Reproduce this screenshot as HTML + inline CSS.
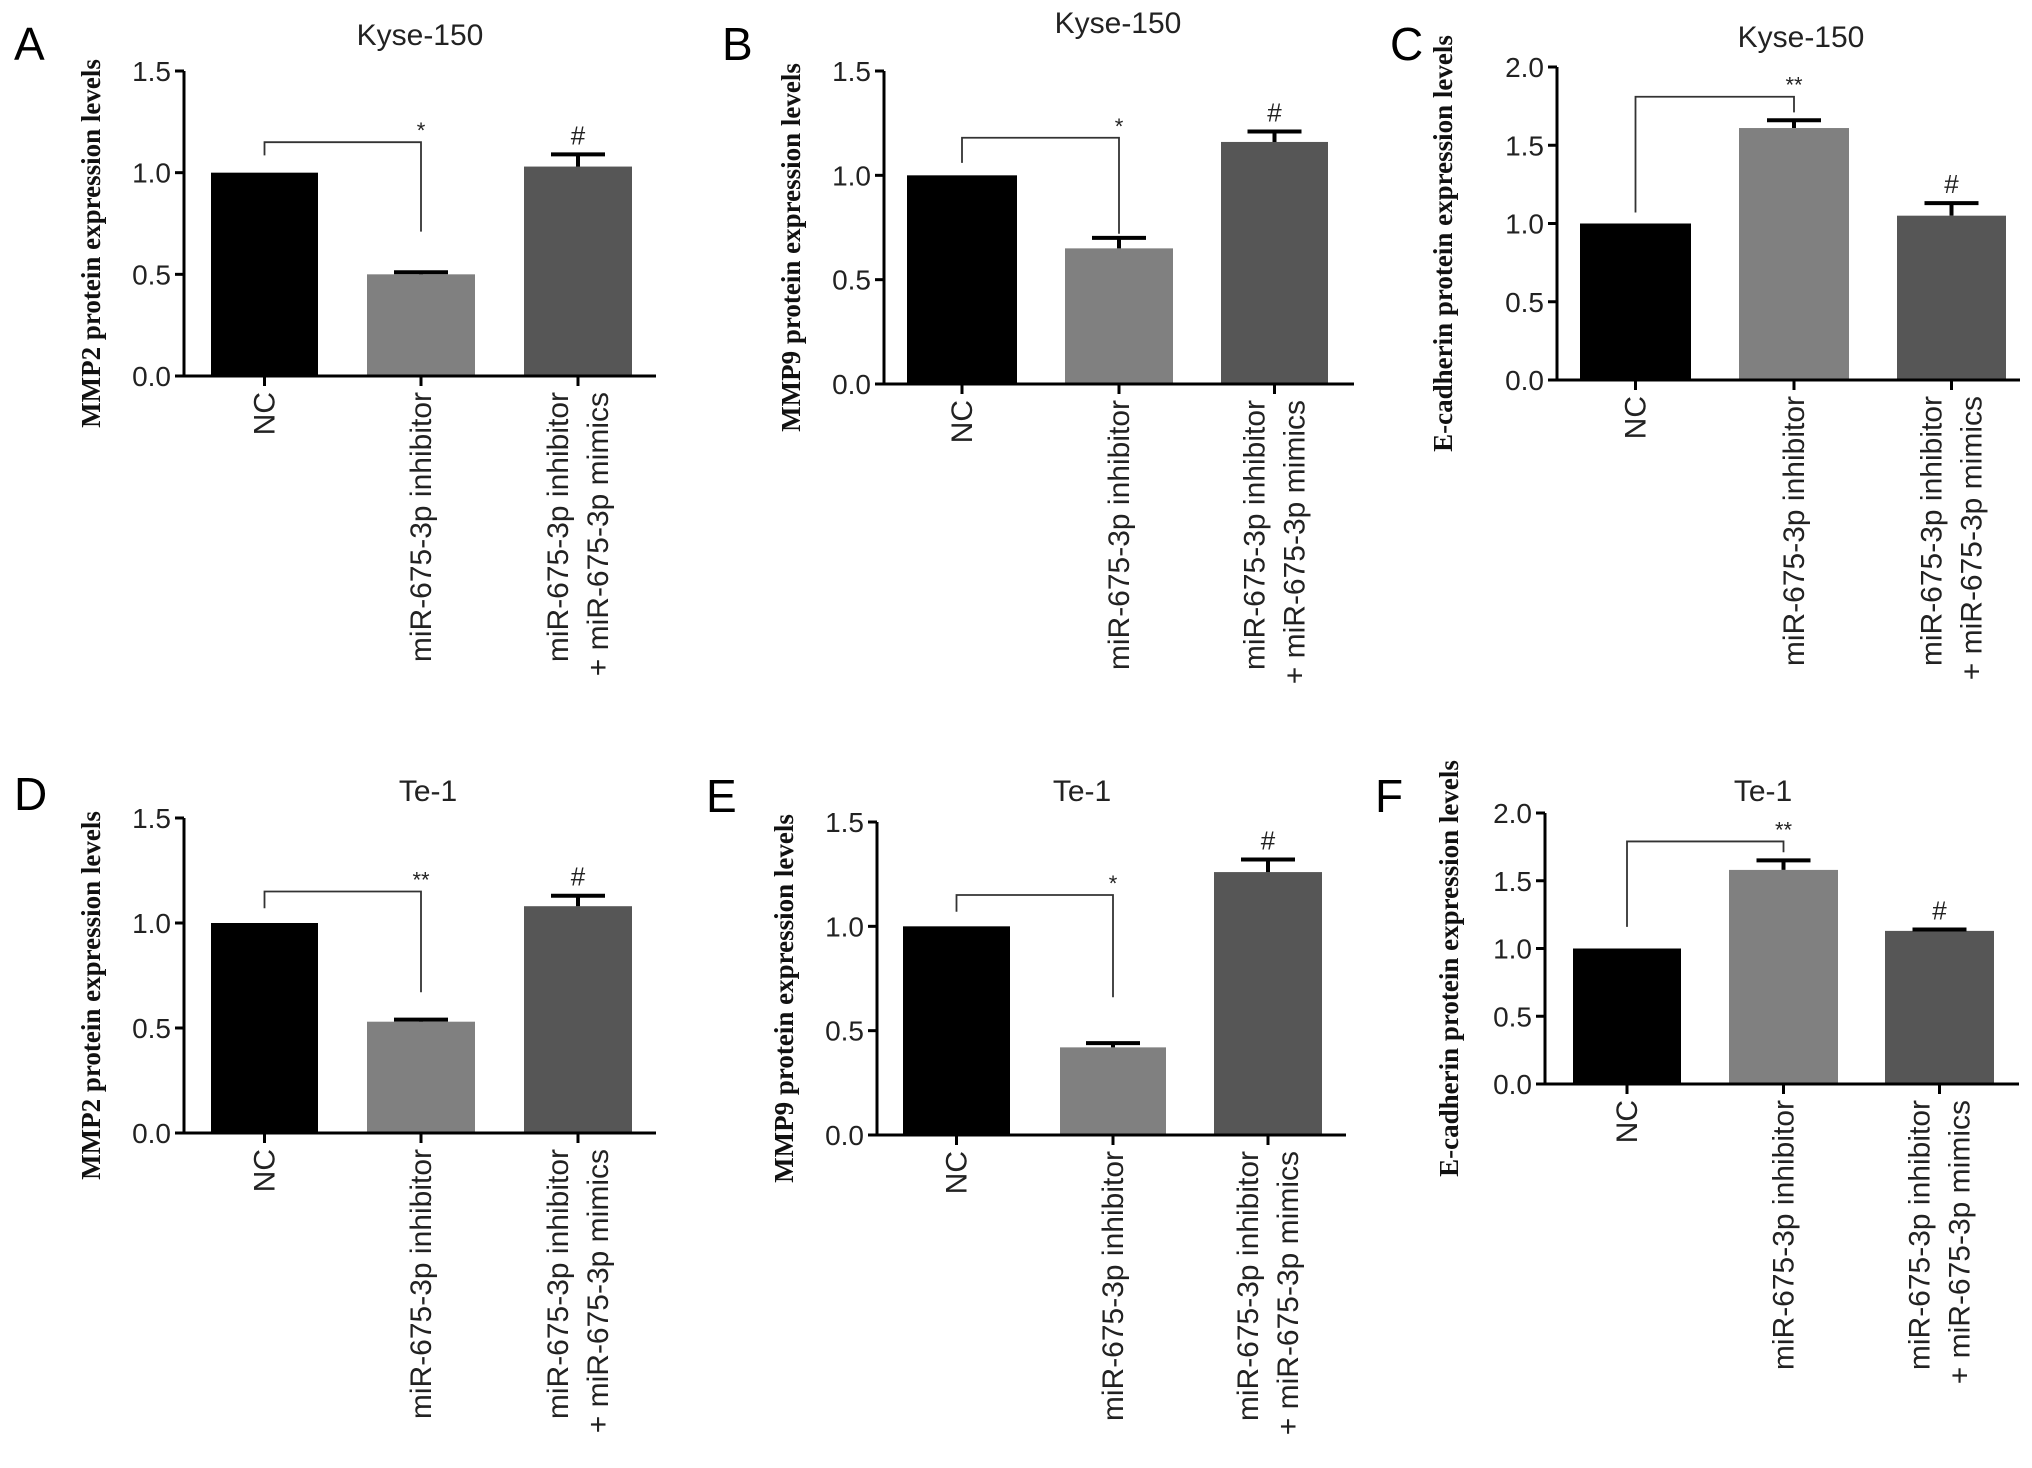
<!DOCTYPE html>
<html><head><meta charset="utf-8">
<style>
html,body{margin:0;padding:0;background:#fff;}
svg{display:block;}
</style></head>
<body>
<svg id="fig" width="2032" height="1468" viewBox="0 0 2032 1468" xmlns="http://www.w3.org/2000/svg"></svg>
<script>
const categories = ["NC", "miR-675-3p inhibitor", "miR-675-3p inhibitor|+ miR-675-3p mimics"];
const panelLetters = ["A","B","C","D","E","F"];
const panelTitles = ["Kyse-150","Kyse-150","Kyse-150","Te-1","Te-1","Te-1"];
const yTitles = ["MMP2 protein expression levels","MMP9 protein expression levels","E-cadherin protein expression levels","MMP2 protein expression levels","MMP9 protein expression levels","E-cadherin protein expression levels"];
const valuesA = [1.0, 0.5, 1.03];
const valuesB = [1.0, 0.65, 1.16];
const valuesC = [1.0, 1.61, 1.05];
const valuesD = [1.0, 0.53, 1.08];
const valuesE = [1.0, 0.42, 1.26];
const valuesF = [1.0, 1.58, 1.13];
const errorsA = [0, 0.01, 0.06];
const errorsB = [0, 0.05, 0.05];
const errorsC = [0, 0.05, 0.08];
const errorsD = [0, 0.01, 0.05];
const errorsE = [0, 0.02, 0.06];
const errorsF = [0, 0.07, 0.01];
const ticks15 = [0, 0.5, 1.0, 1.5];
const ticks20 = [0, 0.5, 1.0, 1.5, 2.0];
const sigMarks = ["*","*","**","**","*","**"];
// bracket: [top, leftLegBottom, rightLegBottom] in data units
const bracketA = [1.15, 1.085, 0.71];
const bracketB = [1.18, 1.06, 0.72];
const bracketC = [1.81, 1.07, 1.71];
const bracketD = [1.15, 1.07, 0.67];
const bracketE = [1.15, 1.07, 0.66];
const bracketF = [1.79, 1.16, 1.71];

const values = [valuesA,valuesB,valuesC,valuesD,valuesE,valuesF];
const errors = [errorsA,errorsB,errorsC,errorsD,errorsE,errorsF];
const brackets = [bracketA,bracketB,bracketC,bracketD,bracketE,bracketF];
const tickSets = [ticks15,ticks15,ticks20,ticks15,ticks15,ticks20];

const layouts = [
 {ax:184, y0:376, yTop:71, right:656, bars:[[211,318],[367,475],[524,632]], title:[420,45], letter:[14,60], yl:100},
 {ax:884, y0:384, yTop:71, right:1354, bars:[[907,1017],[1065,1173],[1221,1328]], title:[1118,33], letter:[722,60], yl:800},
 {ax:1557, y0:380, yTop:67, right:2020, bars:[[1580,1691],[1739,1849],[1897,2006]], title:[1801,47], letter:[1390,60], yl:1452},
 {ax:184, y0:1133, yTop:818, right:656, bars:[[211,318],[367,475],[524,632]], title:[428,801], letter:[14,810], yl:100},
 {ax:877, y0:1135, yTop:822, right:1346, bars:[[903,1010],[1060,1166],[1214,1322]], title:[1082,801], letter:[706,812], yl:793},
 {ax:1545, y0:1084, yTop:813, right:2019, bars:[[1573,1681],[1729,1838],[1885,1994]], title:[1763,801], letter:[1375,812], yl:1458}
];
const barColors = ["#000000","#808080","#565656"];
const NS = "http://www.w3.org/2000/svg";
const svg = document.getElementById("fig");
function mk(tag, attrs, parent){
  const e = document.createElementNS(NS, tag);
  for (const k in attrs) e.setAttribute(k, attrs[k]);
  (parent||svg).appendChild(e);
  return e;
}
for (let p = 0; p < 6; p++) {
  const L = layouts[p];
  const ticks = tickSets[p];
  const yMax = ticks[ticks.length-1];
  const yScale = v => L.y0 - (v / yMax) * (L.y0 - L.yTop);
  const xCenter = i => (L.bars[i][0] + L.bars[i][1]) / 2;
  const g = mk("g", {});
  
  

  const letter = mk("text", {x:L.letter[0], y:L.letter[1], "font-family":"Liberation Sans, sans-serif", "font-size":"46", fill:"#000"}, g);
  letter.textContent = panelLetters[p];
  
  

  const title = mk("text", {x:L.title[0], y:L.title[1], "text-anchor":"middle", "font-family":"Liberation Sans, sans-serif", "font-size":"30", fill:"#222"}, g);
  title.textContent = panelTitles[p];
  
  

  const yt = mk("text", {x:0, y:0, transform:`translate(${L.yl},${(L.y0+L.yTop)/2 + 20}) rotate(-90)`, "text-anchor":"middle", "font-family":"Liberation Serif, serif", "font-weight":"bold", "font-size":"27", fill:"#111"}, g);
  yt.textContent = yTitles[p];
  
  

  for (let i = 0; i < 3; i++) {
    const v = values[p][i], e = errors[p][i];
    const r = mk("rect", {x:L.bars[i][0], y:yScale(v), width:L.bars[i][1]-L.bars[i][0], height:L.y0 - yScale(v), fill:barColors[i]}, g);
    
    
    if (e > 0) {
      const cx = xCenter(i);
      const eb = mk("path", {d:`M${cx},${yScale(v)} V${yScale(v+e)} M${cx-27},${yScale(v+e)} H${cx+27}`, stroke:"#000", "stroke-width":"4", fill:"none"}, g);
      
      
    }
  }
  const axis = mk("path", {d:`M${L.ax},${yScale(yMax)} V${L.y0} H${L.right}`, stroke:"#000", "stroke-width":"3", fill:"none"}, g);
  
  
  for (const t of ticks) {
    const tk = mk("line", {x1:L.ax-9, x2:L.ax, y1:yScale(t), y2:yScale(t), stroke:"#000", "stroke-width":"3"}, g);
    
    
    const tl = mk("text", {x:L.ax-13, y:yScale(t)+10, "text-anchor":"end", "font-family":"Liberation Sans, sans-serif", "font-size":"28", fill:"#222"}, g);
    tl.textContent = t.toFixed(1);
    
    
  }
  for (let i = 0; i < 3; i++) {
    const cx = xCenter(i);
    const tk = mk("line", {x1:cx, x2:cx, y1:L.y0, y2:L.y0+10, stroke:"#000", "stroke-width":"3"}, g);
    
    
    const lines = categories[i].split("|");
    const offs = lines.length === 1 ? [10] : [-10, 30];
    lines.forEach((ln, k) => {
      const tl = mk("text", {x:0, y:0, transform:`translate(${cx+offs[k]},${L.y0+16}) rotate(-90)`, "text-anchor":"end", "font-family":"Liberation Sans, sans-serif", "font-size":"30", fill:"#222"}, g);
      tl.textContent = ln;
      
      
    });
  }
  const b = brackets[p];
  const x0 = xCenter(0), x1 = xCenter(1);
  const br = mk("path", {d:`M${x0},${yScale(b[1])} V${yScale(b[0])} H${x1} V${yScale(b[2])}`, stroke:"#333", "stroke-width":"1.8", fill:"none"}, g);
  
  
  const st = mk("text", {x:x1, y:yScale(b[0])-4, "text-anchor":"middle", "font-family":"Liberation Sans, sans-serif", "font-size":"22", fill:"#222"}, g);
  st.textContent = sigMarks[p];
  
  
  const hv = values[p][2] + errors[p][2];
  const hs = mk("text", {x:xCenter(2), y:yScale(hv)-10, "text-anchor":"middle", "font-family":"Liberation Sans, sans-serif", "font-size":"26", fill:"#222"}, g);
  hs.textContent = "#";
  
  
}
</script>
</body></html>
